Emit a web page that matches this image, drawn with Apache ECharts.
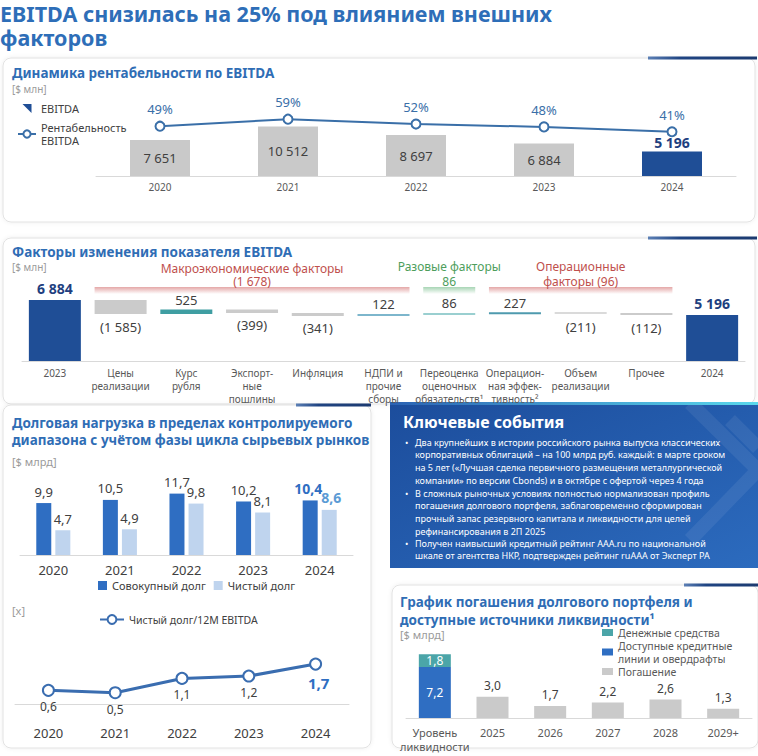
<!DOCTYPE html>
<html><head><meta charset="utf-8">
<script src="https://cdn.jsdelivr.net/npm/echarts@6/dist/echarts.min.js"></script>
<style>html,body{margin:0;padding:0;background:#fff}#c{width:758px;height:756px}</style>
</head><body><div id="c"></div>
<script>
// ---------- DATA ----------
const ebitdaYears = ['2020', '2021', '2022', '2023', '2024'];
const ebitdaValues = [7651, 10512, 8697, 6884, 5196];
const ebitdaMargin = [49, 59, 52, 48, 41];

const factorCategories = ['2023', 'Цены\nреализации', 'Курс\nрубля', 'Экспорт-\nные\nпошлины', 'Инфляция',
  'НДПИ и\nпрочие\nсборы', 'Переоценка\nоценочных\nобязательств¹', 'Операцион-\nная эффек-\nтивность²',
  'Объем\nреализации', 'Прочее', '2024'];
const factorStart = 6884;
const factorDeltas = [-1585, 525, -399, -341, 122, 86, 227, -211, -112];
const factorEnd = 5196;
const factorGroupTitles = ['Макроэкономические факторы', 'Разовые факторы', 'Операционные'];
const factorGroupTotals = ['(1 678)', '86', 'факторы (96)'];

const debtYears = ['2020', '2021', '2022', '2023', '2024'];
const totalDebt = [9.9, 10.5, 11.7, 10.2, 10.4];
const netDebt = [4.7, 4.9, 9.8, 8.1, 8.6];
const netDebtToEbitda = [0.6, 0.5, 1.1, 1.2, 1.7];

const liquidityCategories = ['Уровень\nликвидности', '2025', '2026', '2027', '2028', '2029+'];
const creditLines = [7.2, null, null, null, null, null];
const cashFunds = [1.8, null, null, null, null, null];
const repayments = [null, 3.0, 1.7, 2.2, 2.6, 1.3];

// ---------- HELPERS ----------
const F = '"Noto Sans", "DejaVu Sans", sans-serif';
const BLUE_T = '#2F6DB5';
const thousands = n => String(n).replace(/\B(?=(\d{3})+(?!\d))/g, ' ');
const dec = v => v.toFixed(1).replace('.', ',');

// waterfall
let run = factorStart;
const wfBase = [0], wfVal = [factorStart];
factorDeltas.forEach(d => { const nx = run + d; wfBase.push(Math.min(run, nx)); wfVal.push(Math.abs(d)); run = nx; });
wfBase.push(0); wfVal.push(factorEnd);
const posColors = ['#3F9EA2', '#7DB6CC', '#9ACFD0', '#4E9AAE'];
let pc = 0;
const wfItems = wfVal.map((v, i) => {
  if (i === 0 || i === wfVal.length - 1) {
    return { value: v, itemStyle: { color: '#1F4E96' },
      label: { show: true, position: 'top', formatter: thousands(v), fontWeight: 'bold', fontSize: 14, color: '#1F3F7F' } };
  }
  const d = factorDeltas[i - 1];
  if (d < 0) {
    return { value: v, itemStyle: { color: i === 8 ? '#DADADA' : '#CBCBCB' },
      label: { show: true, position: 'bottom', distance: 6, formatter: '(' + thousands(-d) + ')' } };
  }
  return { value: v, itemStyle: { color: posColors[pc++] },
    label: { show: true, position: 'top', distance: 3, formatter: thousands(d) } };
});

// ---------- GRAPHIC ----------
function panel(x, y, w, h) {
  return { type: 'rect', z: -10, shape: { x, y, width: w, height: h, r: 8 },
    style: { fill: '#fff', stroke: '#E2E2E2', lineWidth: 1, shadowBlur: 4, shadowColor: 'rgba(0,0,0,0.07)' } };
}
function accent(x1, x2, y) {
  return { type: 'rect', z: -5, shape: { x: x1, y: y - 1.5, width: x2 - x1, height: 3 },
    style: { fill: new echarts.graphic.LinearGradient(0, 0, 1, 0, [{ offset: 0, color: '#5B7FB5' }, { offset: 0.3, color: '#1F4482' }, { offset: 1, color: '#1C3A70' }]) } };
}
function txt(x, y, text, font, fill, align, vAlign, lh) {
  return { type: 'text', x, y, style: { text, font, fill, textAlign: align || 'left', align: align || 'left',
    textVerticalAlign: vAlign || 'middle', verticalAlign: vAlign || 'middle', lineHeight: lh } };
}
const bullets = [
  'Два крупнейших в истории российского рынка выпуска классических\nкорпоративных облигаций – на 100 млрд руб. каждый: в марте сроком\nна 5 лет («Лучшая сделка первичного размещения металлургической\nкомпании» по версии Cbonds) и в октябре с офертой через 4 года',
  'В сложных рыночных условиях полностью нормализован профиль\nпогашения долгового портфеля, заблаговременно сформирован\nпрочный запас резервного капитала и ликвидности для целей\nрефинансирования в 2П 2025',
  'Получен наивысший кредитный рейтинг AAA.ru по национальной\nшкале от агентства НКР, подтвержден рейтинг ruAAA от Эксперт РА'
];
const bulletTops = [436, 487, 537];

const graphic = [
  panel(3, 58, 752, 164), accent(648, 757, 58),
  panel(3, 238, 752, 166), accent(648, 757, 238),
  panel(3, 405, 368, 343), accent(296, 371, 405),
  panel(392, 585, 366, 163), accent(684, 758, 585),
  { type: 'rect', z: -9, shape: { x: 390, y: 403, width: 368, height: 165 },
    style: { fill: new echarts.graphic.LinearGradient(0, 0, 1, 1, [{ offset: 0, color: '#1C4D9C' }, { offset: 1, color: '#2C6BBE' }]) } },
  { type: 'polyline', z: -8, shape: { points: [[690, 403], [758, 470], [690, 540]] }, style: { stroke: 'rgba(255,255,255,0.07)', lineWidth: 14, fill: null } },
  { type: 'polyline', z: -8, shape: { points: [[730, 420], [758, 448]] }, style: { stroke: 'rgba(255,255,255,0.07)', lineWidth: 14, fill: null } },
  { type: 'rect', z: -7, shape: { x: 390, y: 402, width: 368, height: 3 },
    style: { fill: new echarts.graphic.LinearGradient(0, 0, 1, 0, [{ offset: 0, color: '#2B62B3' }, { offset: 1, color: '#5AD8EC' }]) } },
  txt(0, 13, 'EBITDA снизилась на 25% под влиянием внешних', 'bold 21.5px ' + F, '#2E6EB8'),
  txt(0, 37, 'факторов', 'bold 21.5px ' + F, '#2E6EB8'),
  txt(12, 73, 'Динамика рентабельности по EBITDA', 'bold 13.5px ' + F, BLUE_T),
  txt(12, 89, '[$ млн]', '10px ' + F, '#9A9A9A'),
  txt(12, 252, 'Факторы изменения показателя EBITDA', 'bold 13.5px ' + F, BLUE_T),
  txt(12, 267, '[$ млн]', '10px ' + F, '#9A9A9A'),
  txt(12, 423, 'Долговая нагрузка в пределах контролируемого', 'bold 13.5px ' + F, BLUE_T),
  txt(12, 440, 'диапазона с учётом фазы цикла сырьевых рынков', 'bold 13.5px ' + F, BLUE_T),
  txt(12, 461, '[$ млрд]', '11px ' + F, '#9A9A9A'),
  txt(12, 610, '[x]', '11px ' + F, '#9A9A9A'),
  txt(403, 422, 'Ключевые события', 'bold 16px ' + F, '#FFFFFF'),
  txt(400, 602, 'График погашения долгового портфеля и', 'bold 13.5px ' + F, BLUE_T),
  txt(400, 620, 'доступные источники ликвидности¹', 'bold 13.5px ' + F, BLUE_T),
  txt(400, 634, '[$ млрд]', '11px ' + F, '#9A9A9A')
];
bullets.forEach((b, i) => {
  graphic.push(txt(405, bulletTops[i], '•', '9px ' + F, '#FFFFFF', 'left', 'top', 12.6));
  graphic.push(txt(415, bulletTops[i], b, '9px ' + F, '#FFFFFF', 'left', 'top', 12.6));
});

// ---------- OPTION ----------
const xCommon = { type: 'category', axisTick: { show: false }, axisLine: { lineStyle: { color: '#D9D9D9' } },
  axisLabel: { fontFamily: F, color: '#595959', interval: 0 } };
const yHidden = { type: 'value', show: false, splitLine: { show: false } };

const option = {
  animation: false,
  textStyle: { fontFamily: F },
  graphic,
  grid: [
    { left: 96, width: 640, top: 96, height: 80 },
    { left: 22, width: 723, top: 280, height: 81 },
    { left: 20, width: 333, top: 470, height: 85 },
    { left: 15, width: 334, top: 645, height: 74 },
    { left: 406, width: 346, top: 640, height: 78 }
  ],
  xAxis: [
    Object.assign({}, xCommon, { gridIndex: 0, data: ebitdaYears, axisLabel: Object.assign({}, xCommon.axisLabel, { fontSize: 10, margin: 6 }) }),
    Object.assign({}, xCommon, { gridIndex: 1, data: factorCategories, axisLabel: Object.assign({}, xCommon.axisLabel, { fontSize: 10, lineHeight: 13, margin: 5 }) }),
    Object.assign({}, xCommon, { gridIndex: 2, data: debtYears, axisLabel: Object.assign({}, xCommon.axisLabel, { fontSize: 13, color: '#404040', margin: 8 }) }),
    Object.assign({}, xCommon, { gridIndex: 3, data: debtYears, axisLabel: Object.assign({}, xCommon.axisLabel, { fontSize: 13, color: '#404040', margin: 7 }) }),
    Object.assign({}, xCommon, { gridIndex: 4, data: liquidityCategories, axisLabel: Object.assign({}, xCommon.axisLabel, { fontSize: 11, lineHeight: 14, margin: 7 }) })
  ],
  yAxis: [
    Object.assign({}, yHidden, { gridIndex: 0, min: 0, max: 17000 }),
    Object.assign({}, yHidden, { gridIndex: 0, min: -22, max: 92 }),
    Object.assign({}, yHidden, { gridIndex: 1, min: 0, max: 9150 }),
    Object.assign({}, yHidden, { gridIndex: 2, min: 0, max: 16.2 }),
    Object.assign({}, yHidden, { gridIndex: 3, min: -0.6, max: 2.5 }),
    Object.assign({}, yHidden, { gridIndex: 4, min: 0, max: 11 })
  ],
  legend: [
    { orient: 'vertical', left: 12, top: 97, itemGap: 6, itemWidth: 18, itemHeight: 9,
      data: [{ name: 'EBITDA', icon: 'path://M0,0L10,0L10,10Z' }, 'Рентабельность EBITDA'],
      formatter: n => n === 'Рентабельность EBITDA' ? 'Рентабельность\nEBITDA' : n,
      textStyle: { fontSize: 11, color: '#404040', lineHeight: 13 } },
    { left: 93, top: 575, icon: 'rect', itemWidth: 9, itemHeight: 9, itemGap: 8,
      data: ['Совокупный долг', 'Чистый долг'], textStyle: { fontSize: 11, color: '#404040' } },
    { left: 94, top: 609, itemWidth: 24, itemHeight: 11, itemGap: 4, data: ['Чистый долг/12M EBITDA'],
      textStyle: { fontSize: 10.5, color: '#404040' } },
    { orient: 'vertical', left: 597, top: 621, icon: 'rect', itemWidth: 11, itemHeight: 7, itemGap: 0,
      data: ['Денежные средства', 'Доступные кредитные линии и овердрафты', 'Погашение'],
      formatter: n => n === 'Доступные кредитные линии и овердрафты' ? 'Доступные кредитные\nлинии и овердрафты' : n,
      textStyle: { fontSize: 10.5, color: '#595959', lineHeight: 13 } }
  ],
  series: [
    { type: 'bar', name: 'EBITDA', xAxisIndex: 0, yAxisIndex: 0, barWidth: 60, itemStyle: { color: '#1F4E96' },
      label: { show: true, position: 'inside', fontSize: 13, color: '#404040' },
      data: ebitdaValues.map((v, i) => i === ebitdaValues.length - 1
        ? { value: v, label: { position: 'top', formatter: thousands(v), fontWeight: 'bold', fontSize: 14, color: '#1F3F7F', distance: 2 } }
        : { value: v, itemStyle: { color: '#C9C9C9' }, label: { formatter: thousands(v) } }) },
    { type: 'line', name: 'Рентабельность EBITDA', xAxisIndex: 0, yAxisIndex: 1, data: ebitdaMargin,
      symbol: 'emptyCircle', symbolSize: 9, color: '#3A6FA8', lineStyle: { width: 2 }, itemStyle: { borderWidth: 2 },
      label: { show: true, position: 'top', distance: 5, fontSize: 13, color: '#3A6FA8', formatter: '{c}%' } },
    { type: 'bar', name: 'wfBase', stack: 'wf', xAxisIndex: 1, yAxisIndex: 2, barWidth: 52,
      itemStyle: { color: 'transparent' }, data: wfBase, silent: true },
    { type: 'bar', name: 'wfValue', stack: 'wf', xAxisIndex: 1, yAxisIndex: 2, barWidth: 52, barMinHeight: 2,
      label: { fontSize: 13, color: '#404040' }, data: wfItems },
    { type: 'bar', name: 'Совокупный долг', xAxisIndex: 2, yAxisIndex: 3, barWidth: 15, barGap: '27%', color: '#2F6EC2',
      label: { show: true, position: 'top', fontSize: 13, color: '#404040', formatter: p => dec(p.value) },
      data: totalDebt.map((v, i) => i === totalDebt.length - 1 ? { value: v, label: { fontWeight: 'bold', fontSize: 14, color: '#2F6EC2', offset: [-2, 0] } } : v) },
    { type: 'bar', name: 'Чистый долг', xAxisIndex: 2, yAxisIndex: 3, barWidth: 15, color: '#BFD4EE',
      label: { show: true, position: 'top', fontSize: 13, color: '#404040', formatter: p => dec(p.value) },
      data: netDebt.map((v, i) => i === netDebt.length - 1 ? { value: v, label: { fontWeight: 'bold', fontSize: 14, color: '#5B9BD5', offset: [2, 0] } } : v) },
    { type: 'line', name: 'Чистый долг/12M EBITDA', xAxisIndex: 3, yAxisIndex: 4, data: netDebtToEbitda.map((v, i) => i === netDebtToEbitda.length - 1
        ? { value: v, label: { fontWeight: 'bold', fontSize: 15, color: '#2F6EC2', offset: [3, 1] } } : v),
      symbol: 'emptyCircle', symbolSize: 11, color: '#3A6DB0', lineStyle: { width: 3 }, itemStyle: { borderWidth: 1.5 },
      label: { show: true, position: 'bottom', distance: 4, fontSize: 12, color: '#404040', formatter: p => dec(p.value) } },
    { type: 'bar', name: 'Доступные кредитные линии и овердрафты', stack: 'liq', xAxisIndex: 4, yAxisIndex: 5, barWidth: 32, color: '#2F6EC2',
      label: { show: true, position: 'inside', fontSize: 12, color: '#fff', formatter: p => dec(p.value) }, data: creditLines },
    { type: 'bar', name: 'Денежные средства', stack: 'liq', xAxisIndex: 4, yAxisIndex: 5, barWidth: 32, color: '#4BA5A8',
      label: { show: true, position: 'inside', fontSize: 12, color: '#fff', formatter: p => dec(p.value) }, data: cashFunds },
    { type: 'bar', name: 'Погашение', stack: 'liq', xAxisIndex: 4, yAxisIndex: 5, barWidth: 32, color: '#CACACA',
      label: { show: true, position: 'top', fontSize: 12, color: '#404040', formatter: p => dec(p.value) }, data: repayments }
  ]
};

const chart = echarts.init(document.getElementById('c'), null, { renderer: 'svg' });
chart.setOption(option);

// group brackets on the waterfall, positioned through the category axis
const half = 26;
const cx = i => chart.convertToPixel({ xAxisIndex: 1 }, i);
const groupSpans = [[1, 5], [6, 6], [7, 9]];
const groupColors = ['#C0504D', '#4E9E5C', '#C0504D'];
const groupFill = ['rgba(214,120,120,', 'rgba(120,190,140,', 'rgba(214,120,120,'];
const extra = [];
groupSpans.forEach((s, k) => {
  const x1 = cx(s[0]) - half, x2 = cx(s[1]) + half;
  const mid = (x1 + x2) / 2;
  extra.push({ type: 'rect', shape: { x: x1, y: 287, width: x2 - x1, height: 7 },
    style: { fill: new echarts.graphic.LinearGradient(0, 0, 0, 1, [{ offset: 0, color: groupFill[k] + '0.65)' }, { offset: 1, color: groupFill[k] + '0)' }]) } });
  extra.push(txt(mid, k === 0 ? 268 : 266.5, factorGroupTitles[k], '12px ' + F, groupColors[k], 'center', 'middle'));
  extra.push(txt(mid, 281.5, factorGroupTotals[k], '12px ' + F, groupColors[k], 'center', 'middle'));
});
chart.setOption({ graphic: graphic.concat(extra) });
</script></body></html>
